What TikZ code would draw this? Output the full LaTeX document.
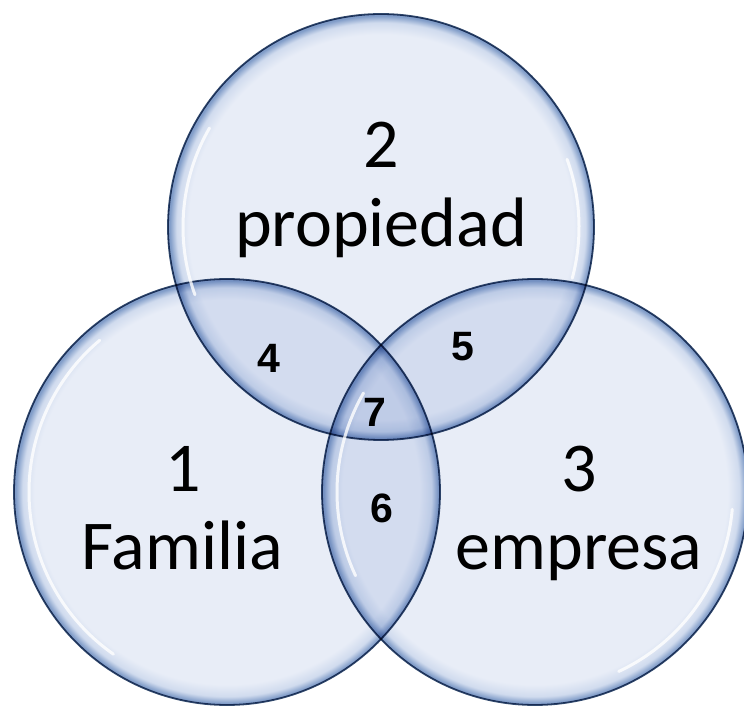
\documentclass[tikz,border=0pt]{standalone}
\usepackage{fontspec}
\setmainfont{Carlito}
\newfontfamily\numfont{Liberation Sans}

\definecolor{bubfill}{RGB}{232,237,247}
\definecolor{bubmid}{RGB}{208,219,238}
\definecolor{bubglow}{RGB}{128,156,200}
\definecolor{bubline}{RGB}{48,72,108}
\pgfdeclareradialshading{bubble}{\pgfpoint{0bp}{0bp}}{%
    color(0bp)=(bubfill); color(22.6bp)=(bubfill);
    color(24bp)=(bubmid); color(24.8bp)=(bubglow); color(25bp)=(bubglow);
    color(50bp)=(bubglow)}

\begin{document}
\begin{tikzpicture}[
        x=1pt, y=1pt,
        setcircle/.style={circle, minimum size=426pt, inner sep=0pt,
            shading=bubble, draw=bubline, line width=1.8pt},
        glint/.style={white, line width=3pt, opacity=0.8, line cap=round},
        bigtext/.style={font=\fontsize{70}{80}\selectfont, inner sep=0pt, anchor=base},
        smalltext/.style={font=\numfont\bfseries\fontsize{41}{46}\selectfont, inner sep=0pt}
    ]
    \useasboundingbox (0,0) rectangle (744,707);

    % the three sets
    \begin{scope}[blend group=multiply]
        \node[setcircle] (prop) at (381,480) {};
        \node[setcircle] (fam) at (227,215) {};
        \node[setcircle] (emp) at (535,215) {};
    \end{scope}

    % glossy highlights
    \draw[glint] (fam.center) ++(130:198) arc[start angle=130, end angle=235, radius=198pt];
    \draw[glint] (prop.center) ++(150:198) arc[start angle=150, end angle=200, radius=198pt];
    \draw[glint] (prop.center) ++(-15:198) arc[start angle=-15, end angle=20, radius=198pt];
    \draw[glint] (emp.center) ++(150:198) arc[start angle=150, end angle=205, radius=198pt];
    \draw[glint] (emp.center) ++(-65:198) arc[start angle=-65, end angle=-5, radius=198pt];

    % labels
    \node[bigtext] (num2) at (381,539) {2};
    \node[bigtext] (prop label) at (381,460) {propiedad};
    \node[bigtext] (num1) at (183,215) {1};
    \node[bigtext] (fam label) at (182,137) {Familia};
    \node[bigtext] (num3) at (579,215) {3};
    \node[bigtext] (emp label) at (579,137) {empresa};

    \node[smalltext] (num4) at (269,349) {4};
    \node[smalltext] (num5) at (463,360) {5};
    \node[smalltext] (num6) at (382,199) {6};
    \node[smalltext] (num7) at (375,295) {7};
\end{tikzpicture}
\end{document}
